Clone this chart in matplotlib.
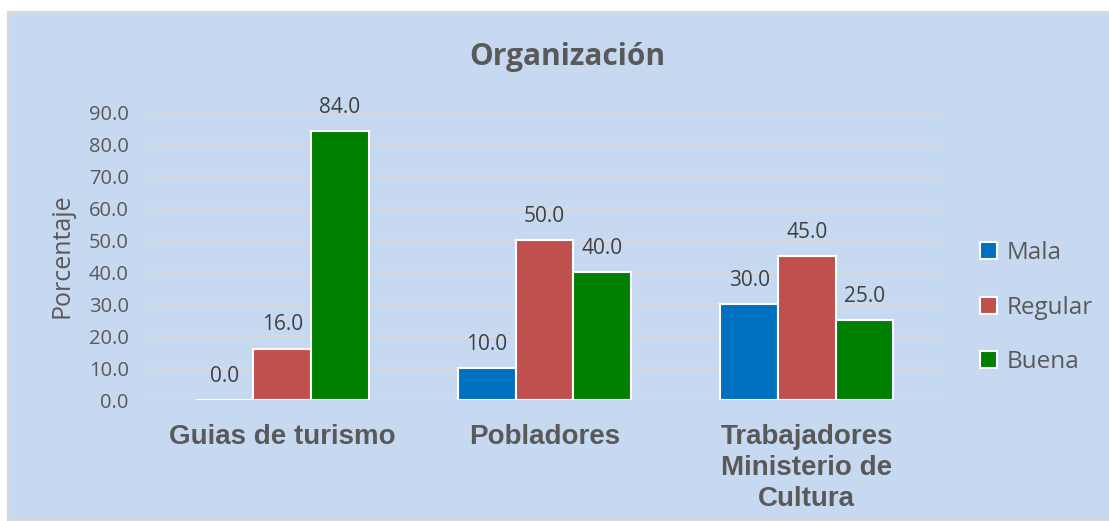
import numpy as np
import matplotlib.pyplot as plt
from matplotlib.patches import Rectangle

categorias = ['Guias de turismo', 'Pobladores', 'Trabajadores\nMinisterio de\nCultura']
series = ['Mala', 'Regular', 'Buena']
mala = [0.0, 10.0, 30.0]
regular = [16.0, 50.0, 45.0]
buena = [84.0, 40.0, 25.0]
colores = ['#0070C0', '#C0504D', '#008000']
yticks = np.arange(0, 91, 10)

W, H = 1109, 521
fig = plt.figure(figsize=(W / 100, H / 100), dpi=100)
fig.patch.set_facecolor('white')
# fondo del grafico con borde gris
fig.patches.append(Rectangle((8 / W, 0), 1, 1 - 12 / H, transform=fig.transFigure,
                             facecolor='#C6D9F1', edgecolor='#D9D9D9', lw=1.5, zorder=-10))

ax = fig.add_axes([151 / W, 1 - 400 / H, (938 - 151) / W, (400 - 112) / H])
ax.set_facecolor('none')

x = np.arange(len(categorias))
w = 0.22
for i, (nombre, vals) in enumerate(zip(series, [mala, regular, buena])):
    pos = x + (i - 1) * w
    bars = ax.bar(pos, vals, w, color=colores[i], edgecolor='white', lw=1.5,
                  label=nombre, zorder=3)
    for b, v in zip(bars, vals):
        ax.text(b.get_x() + b.get_width() / 2, v + 7.5, f'{v:.1f}', ha='center', va='center',
                fontsize=15, color='#404040', family='Open Sans')

ax.set_ylim(0, 90)
ax.set_xlim(-0.5, 2.5)
ax.set_yticks(yticks)
ax.set_yticklabels([f'{t:.1f}' for t in yticks], fontsize=14.5, color='#595959', family='Open Sans')
ax.set_xticks(x)
ax.set_xticklabels(categorias, fontsize=20, fontweight='bold', color='#595959',
                   family='Liberation Sans', linespacing=1.27)
ax.tick_params(axis='y', length=0, pad=16)
ax.tick_params(axis='x', length=0, pad=17)
ax.grid(axis='y', color='#D9D9D9', lw=1.5, zorder=0)
for s in ax.spines.values():
    s.set_visible(False)
ax.set_ylabel('Porcentaje', fontsize=18, color='#595959', family='Open Sans', labelpad=10)

fig.text(567 / W, 1 - 57 / H, 'Organización', ha='center', va='center', fontsize=21.5,
         fontweight='bold', color='#595959', family='Open Sans')

leg = ax.legend(loc='center left', bbox_to_anchor=(1.025, 0.32), frameon=False,
                prop={'family': 'Open Sans', 'size': 17.5}, labelcolor='#595959',
                handlelength=0.7, handleheight=0.7, handletextpad=0.4, labelspacing=1.25)

fig.savefig('out.png', dpi=100)
